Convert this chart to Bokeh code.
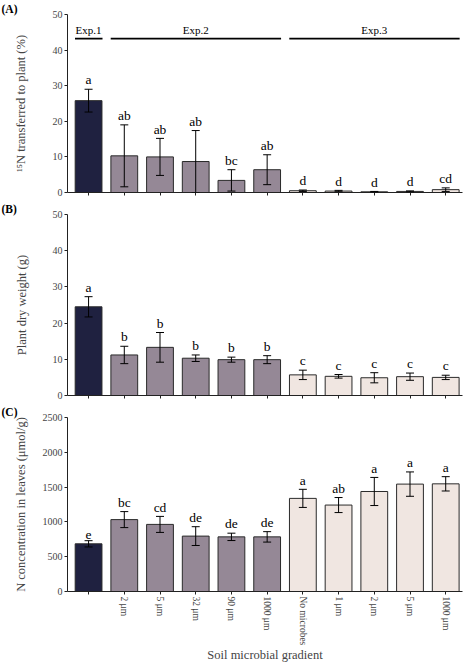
from bokeh.plotting import figure
from bokeh.layouts import column
from bokeh.models import ColumnDataSource, Whisker, TeeHead, FixedTicker, Range1d
from bokeh.core.properties import value
from bokeh.embed import file_html
from bokeh.resources import INLINE

# ---------------- data ----------------
tick_labels = ["", "2 μm", "5 μm", "32 μm", "90 μm", "1000 μm",
               "No microbes", "1 μm", "2 μm", "5 μm", "1000 μm"]
groups = ["Exp.1", "Exp.2", "Exp.2", "Exp.2", "Exp.2", "Exp.2",
          "Exp.3", "Exp.3", "Exp.3", "Exp.3", "Exp.3"]
group_names = ["Exp.1", "Exp.2", "Exp.3"]
group_colors = {"Exp.1": "#1f2140", "Exp.2": "#958896", "Exp.3": "#f0e6e1"}

n15_mean = [25.8, 10.3, 10.0, 8.7, 3.4, 6.4, 0.5, 0.4, 0.2, 0.3, 0.8]
n15_err = [3.2, 8.7, 5.2, 8.7, 3.0, 4.2, 0.2, 0.2, 0.1, 0.15, 0.5]
n15_letters = ["a", "ab", "ab", "ab", "bc", "ab", "d", "d", "d", "d", "cd"]

dw_mean = [24.5, 11.2, 13.3, 10.3, 9.9, 9.9, 5.7, 5.3, 4.9, 5.2, 5.0]
dw_err = [2.8, 2.4, 4.1, 0.9, 0.7, 1.1, 1.3, 0.5, 1.4, 1.0, 0.6]
dw_letters = ["a", "b", "b", "b", "b", "b", "c", "c", "c", "c", "c"]

nc_mean = [685, 1033, 964, 796, 785, 785, 1338, 1242, 1437, 1543, 1547]
nc_err = [45, 115, 115, 135, 53, 75, 130, 108, 202, 175, 103]
nc_letters = ["e", "bc", "cd", "de", "de", "de", "a", "ab", "a", "a", "a"]

FONT = "Liberation Serif"


def make_panel(mean, err, letters, ymax, yticks, ylabel, tag,
               border_top, frame_h, border_bottom, label_standoff, last=False):
    p = figure(width=467, height=border_top + frame_h + border_bottom,
               min_border_left=67, min_border_right=5,
               min_border_top=border_top, min_border_bottom=border_bottom,
               x_range=Range1d(-0.59, 10.47), y_range=Range1d(0, ymax),
               output_backend="svg", toolbar_location=None)
    p.outline_line_color = None
    p.xgrid.visible = False
    p.ygrid.visible = False

    # panel tag as left-shifted title
    p.title.text = tag
    p.title.align = "left"
    p.title.offset = -66
    p.title.standoff = 0
    p.title.text_font = FONT
    p.title.text_font_style = "bold"
    p.title.text_font_size = "11.5px"
    p.title.text_color = "#000000"

    x = list(range(len(mean)))
    src = ColumnDataSource(dict(
        x=x, top=mean,
        upper=[m + e for m, e in zip(mean, err)],
        lower=[m - e for m, e in zip(mean, err)],
        fill=[group_colors[g] for g in groups],
        letter=letters,
        ly=[m + e + ymax * 0.01 for m, e in zip(mean, err)],
    ))
    p.vbar(x="x", top="top", width=0.75, fill_color="fill",
           line_color="#2a2a2a", line_width=1, source=src)
    w = Whisker(base="x", upper="upper", lower="lower", source=src,
                line_color="black", line_width=1, level="overlay",
                upper_head=TeeHead(size=8, line_color="black", line_width=1),
                lower_head=TeeHead(size=8, line_color="black", line_width=1))
    p.add_layout(w)
    p.text(x="x", y="ly", text="letter", source=src, text_align="center",
           text_baseline="bottom", text_font=value(FONT),
           text_font_size="13.5px", text_color="#000000")

    # axes
    p.yaxis.ticker = FixedTicker(ticks=yticks)
    p.yaxis.major_tick_out = 3
    p.yaxis.major_tick_in = 0
    p.yaxis.minor_tick_line_color = None
    p.yaxis.major_label_text_font = FONT
    p.yaxis.major_label_text_font_size = "10px"
    p.yaxis.major_label_standoff = 2
    p.yaxis.axis_label = ylabel
    p.yaxis.axis_label_text_font = FONT
    p.yaxis.axis_label_text_font_style = "normal"
    p.yaxis.axis_label_text_font_size = "12.5px"
    p.yaxis.axis_label_standoff = label_standoff
    p.yaxis.axis_line_color = "#222222"
    p.yaxis.major_tick_line_color = "#222222"

    p.xaxis.ticker = FixedTicker(ticks=x)
    p.xaxis.major_tick_out = 3
    p.xaxis.major_tick_in = 0
    p.xaxis.minor_tick_line_color = None
    p.xaxis.axis_line_color = "#222222"
    p.xaxis.major_tick_line_color = "#222222"
    if last:
        p.xaxis.major_label_overrides = {i: t for i, t in enumerate(tick_labels)}
        p.xaxis.major_label_orientation = "vertical"
        p.xaxis.major_label_text_font = FONT
        p.xaxis.major_label_text_font_size = "9.5px"
        p.xaxis.major_label_standoff = 2
        p.xaxis.axis_label = "Soil microbial gradient"
        p.xaxis.axis_label_text_font = FONT
        p.xaxis.axis_label_text_font_style = "normal"
        p.xaxis.axis_label_text_font_size = "12.5px"
        p.xaxis.axis_label_standoff = 0
    else:
        p.xaxis.major_label_text_font_size = "0px"
        p.xaxis.major_label_standoff = 0
    return p


pA = make_panel(n15_mean, n15_err, n15_letters, 50, [0, 10, 20, 30, 40, 50],
                "¹⁵N transferred to plant (%)", "(A)", 14, 178, 8, 22)
pB = make_panel(dw_mean, dw_err, dw_letters, 50, [0, 10, 20, 30, 40, 50],
                "Plant dry weight (g)", "(B)", 14, 181, 6, 21)
pC = make_panel(nc_mean, nc_err, nc_letters, 2500,
                [0, 500, 1000, 1500, 2000, 2500],
                "N concentration in leaves (μmol/g)", "(C)", 16, 181, 67, 12,
                last=True)

# experiment brackets in panel A
exp_x0, exp_x1, exp_xc = [], [], []
for g in group_names:
    idx = [i for i, gg in enumerate(groups) if gg == g]
    exp_x0.append(idx[0] - 0.38)
    exp_x1.append(idx[-1] + 0.39)
    exp_xc.append((idx[0] + idx[-1]) / 2)
pA.segment(x0=exp_x0, x1=exp_x1, y0=[43.2] * 3, y1=[43.2] * 3,
           line_color="black", line_width=1.7)
pA.text(x=exp_xc, y=[43.9] * 3, text=group_names, text_align="center",
        text_baseline="bottom", text_font=value(FONT),
        text_font_size="11px", text_color="#000000")

layout = column(pA, pB, pC, spacing=0)
open("out.html", "w").write(file_html(layout, INLINE))
